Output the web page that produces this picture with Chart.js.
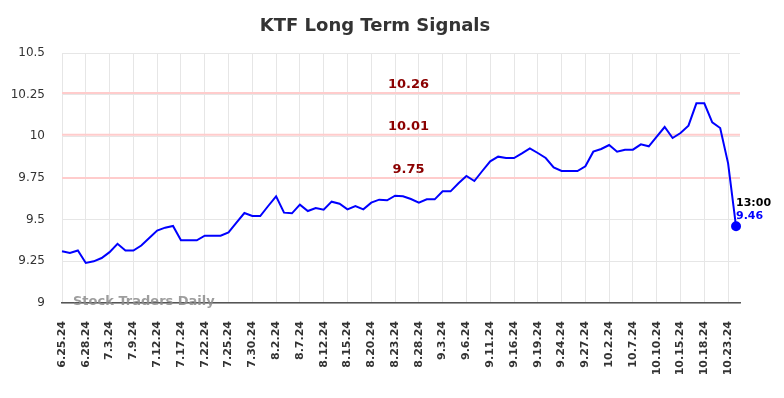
<!DOCTYPE html>
<html>
<head>
<meta charset="utf-8">
<script src="https://cdn.jsdelivr.net/npm/chart.js@4/dist/chart.umd.min.js"></script>
<style>
  html, body { margin: 0; padding: 0; background: #fff; }
</style>
</head>
<body>
<canvas id="chart" width="784" height="398"></canvas>
<script>
// trading days on the x axis (every third one gets a tick label)
const dates = [
    '6.25.24', '6.26.24', '6.27.24', '6.28.24',
    '7.1.24', '7.2.24', '7.3.24', '7.5.24', '7.8.24', '7.9.24', '7.10.24', '7.11.24', '7.12.24',
    '7.15.24', '7.16.24', '7.17.24', '7.18.24', '7.19.24', '7.22.24', '7.23.24', '7.24.24', '7.25.24',
    '7.26.24', '7.29.24', '7.30.24', '7.31.24',
    '8.1.24', '8.2.24', '8.5.24', '8.6.24', '8.7.24', '8.8.24', '8.9.24', '8.12.24', '8.13.24', '8.14.24',
    '8.15.24', '8.16.24', '8.19.24', '8.20.24', '8.21.24', '8.22.24', '8.23.24', '8.26.24', '8.27.24',
    '8.28.24', '8.29.24', '8.30.24',
    '9.3.24', '9.4.24', '9.5.24', '9.6.24', '9.9.24', '9.10.24', '9.11.24', '9.12.24', '9.13.24',
    '9.16.24', '9.17.24', '9.18.24', '9.19.24', '9.20.24', '9.23.24', '9.24.24', '9.25.24', '9.26.24',
    '9.27.24', '9.30.24',
    '10.1.24', '10.2.24', '10.3.24', '10.4.24', '10.7.24', '10.8.24', '10.9.24', '10.10.24', '10.11.24',
    '10.14.24', '10.15.24', '10.16.24', '10.17.24', '10.18.24', '10.21.24', '10.22.24', '10.23.24', '10.24.24'
];

// closing prices, same order as dates
const prices = [
    9.31, 9.30, 9.315, 9.24,
    9.25, 9.27, 9.305, 9.355, 9.315, 9.315, 9.345, 9.39, 9.435,
    9.452, 9.462, 9.376, 9.376, 9.376, 9.404, 9.404, 9.404, 9.424,
    9.482, 9.54, 9.522, 9.522,
    9.582, 9.64, 9.542, 9.538, 9.59, 9.552, 9.57, 9.56, 9.608, 9.596,
    9.562, 9.582, 9.562, 9.602, 9.62, 9.616, 9.644, 9.64, 9.624,
    9.602, 9.622, 9.622,
    9.67, 9.67, 9.718, 9.762, 9.732, 9.792, 9.85, 9.878, 9.87,
    9.87, 9.898, 9.928, 9.90, 9.87, 9.814, 9.792, 9.792, 9.792,
    9.82, 9.908,
    9.924, 9.948, 9.908, 9.92, 9.92, 9.952, 9.94, 9.998, 10.056,
    9.99, 10.02, 10.064, 10.198, 10.198, 10.084, 10.05, 9.838, 9.46
];

const signalLevels = [10.26, 10.01, 9.75];
const yTicks = [9, 9.25, 9.5, 9.75, 10, 10.25, 10.5];
const lastLabel = '13:00';

const FONT = "'DejaVu Sans', sans-serif";

// signal lines and labels, title, watermark, last value label
const overlay = {
    id: 'overlay',
    beforeDatasetsDraw(chart) {
        const { ctx, chartArea, scales } = chart;
        ctx.save();
        ctx.strokeStyle = '#ffcccc';
        ctx.lineWidth = 2;
        signalLevels.forEach(level => {
            const y = scales.y.getPixelForValue(level);
            ctx.beginPath();
            ctx.moveTo(chartArea.left, y);
            ctx.lineTo(chartArea.right, y);
            ctx.stroke();
        });
        ctx.restore();
    },
    afterDatasetsDraw(chart) {
        const { ctx, chartArea, scales } = chart;
        ctx.save();

        ctx.font = 'bold 13px ' + FONT;
        ctx.fillStyle = '#8b0000';
        ctx.textAlign = 'center';
        ctx.textBaseline = 'middle';
        const labelX = scales.x.getPixelForValue(43.7);
        signalLevels.forEach(level => {
            const y = scales.y.getPixelForValue(level);
            ctx.fillText(level.toFixed(2), labelX, y - 8);
        });

        ctx.font = 'bold 18px ' + FONT;
        ctx.fillStyle = '#333';
        ctx.fillText('KTF Long Term Signals', 375, 26);

        ctx.font = 'bold 13px ' + FONT;
        ctx.fillStyle = 'rgba(140,140,140,0.85)';
        ctx.textAlign = 'left';
        ctx.fillText('Stock Traders Daily', 73, chartArea.bottom - 1);

        const i = prices.length - 1;
        const px = scales.x.getPixelForValue(i);
        const py = scales.y.getPixelForValue(prices[i]);
        ctx.font = 'bold 11px ' + FONT;
        ctx.fillStyle = '#000';
        ctx.fillText(lastLabel, px, py - 23);
        ctx.fillStyle = '#0000ff';
        ctx.fillText(prices[i].toFixed(2), px, py - 10);
        ctx.restore();
    }
};

const ctx = document.getElementById('chart').getContext('2d');
new Chart(ctx, {
    type: 'line',
    data: {
        datasets: [{
            data: prices.map((v, i) => ({ x: i, y: v })),
            borderColor: '#0000ff',
            backgroundColor: '#0000ff',
            borderWidth: 2,
            tension: 0,
            clip: false,
            pointRadius: prices.map((v, i) => i === prices.length - 1 ? 4 : 0),
            pointHoverRadius: 0
        }]
    },
    options: {
        responsive: false,
        animation: false,
        events: [],
        layout: {
            padding: { top: 53, right: 44, left: 0, bottom: 0 }
        },
        plugins: {
            legend: { display: false },
            tooltip: { enabled: false },
            title: { display: false }
        },
        scales: {
            x: {
                type: 'linear',
                bounds: 'data',
                min: 0,
                max: 85.5,
                afterFit: scale => { scale.height = 95; },
                grid: { color: '#e6e6e6', drawTicks: false },
                border: { display: true, color: '#555', width: 1.5 },
                ticks: {
                    stepSize: 3,
                    includeBounds: false,
                    autoSkip: false,
                    maxRotation: 90,
                    minRotation: 90,
                    padding: 18,
                    color: '#333',
                    font: { family: FONT, size: 11, weight: 'bold' },
                    callback: value => dates[value] || ''
                }
            },
            y: {
                min: 9,
                max: 10.5,
                afterFit: scale => { scale.width = 62; },
                afterBuildTicks: scale => {
                    scale.ticks = yTicks.map(v => ({ value: v }));
                },
                grid: { color: '#e6e6e6', drawTicks: false },
                border: { display: false },
                ticks: {
                    padding: 17,
                    color: '#333',
                    font: { family: FONT, size: 12 },
                    callback: value => String(value)
                }
            }
        }
    },
    plugins: [overlay]
});
</script>
</body>
</html>
